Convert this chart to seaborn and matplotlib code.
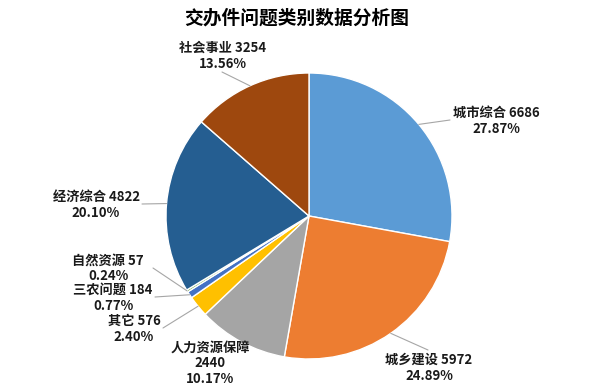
import matplotlib.pyplot as plt
import numpy as np
import seaborn as sns

sns.set_theme(style="white")
plt.rcParams['font.family'] = ['Noto Sans CJK SC', 'DejaVu Sans']

# Data
categories = ["城市综合", "城乡建设", "人力资源保障", "其它", "三农问题", "自然资源", "经济综合", "社会事业"]
counts = [6686, 5972, 2440, 576, 184, 57, 4822, 3254]
colors = ["#5B9BD5", "#ED7D31", "#A5A5A5", "#FFC000", "#4472C4", "#70AD47", "#255E91", "#9E480E"]

# Layout (pixels in the 594x392 image)
cx, cy, rad = 309, 216, 143
label_pos = [(496, 121), (429, 368), (210, 363), (134, 329), (113, 298), (108, 268), (96, 205), (223, 56)]
line_end = [(450, 120), (428, 350), None, (163, 328), (155, 297), (153, 268), (142, 204), (222, 72)]


def to_data(px, py):
    return (px - cx) / rad, (cy - py) / rad


fig = plt.figure(figsize=(5.94, 3.92), dpi=100)
ax = fig.add_axes([0, 0, 1, 1])
ax.pie(counts, colors=colors, startangle=90, counterclock=False, radius=1,
       wedgeprops=dict(edgecolor="white", linewidth=1))
ax.set_xlim(-cx / rad, (594 - cx) / rad)
ax.set_ylim(-(392 - cy) / rad, cy / rad)
ax.set_aspect("equal")
ax.axis("off")

total = sum(counts)
cum = np.cumsum([0] + counts[:-1])
for i, (name, val) in enumerate(zip(categories, counts)):
    pct = val / total * 100
    if name == "人力资源保障":
        txt = f"{name}\n{val}\n{pct:.2f}%"
    else:
        txt = f"{name} {val}\n{pct:.2f}%"
    lx, ly = to_data(*label_pos[i])
    ax.text(lx, ly, txt, ha="center", va="center", multialignment="center",
            fontsize=9.5, fontweight="bold", color="#1a1a1a", linespacing=1.15)
    if line_end[i] is not None:
        mid = np.deg2rad(90 - (cum[i] + val / 2) / total * 360)
        ex, ey = to_data(*line_end[i])
        ax.plot([np.cos(mid), ex], [np.sin(mid), ey], color="#A6A6A6", lw=0.8)

fig.text(297 / 594, 1 - 18 / 392, "交办件问题类别数据分析图", ha="center", va="center",
         fontsize=13.5, fontweight="bold", color="black")

fig.savefig("out.png", dpi=100)
